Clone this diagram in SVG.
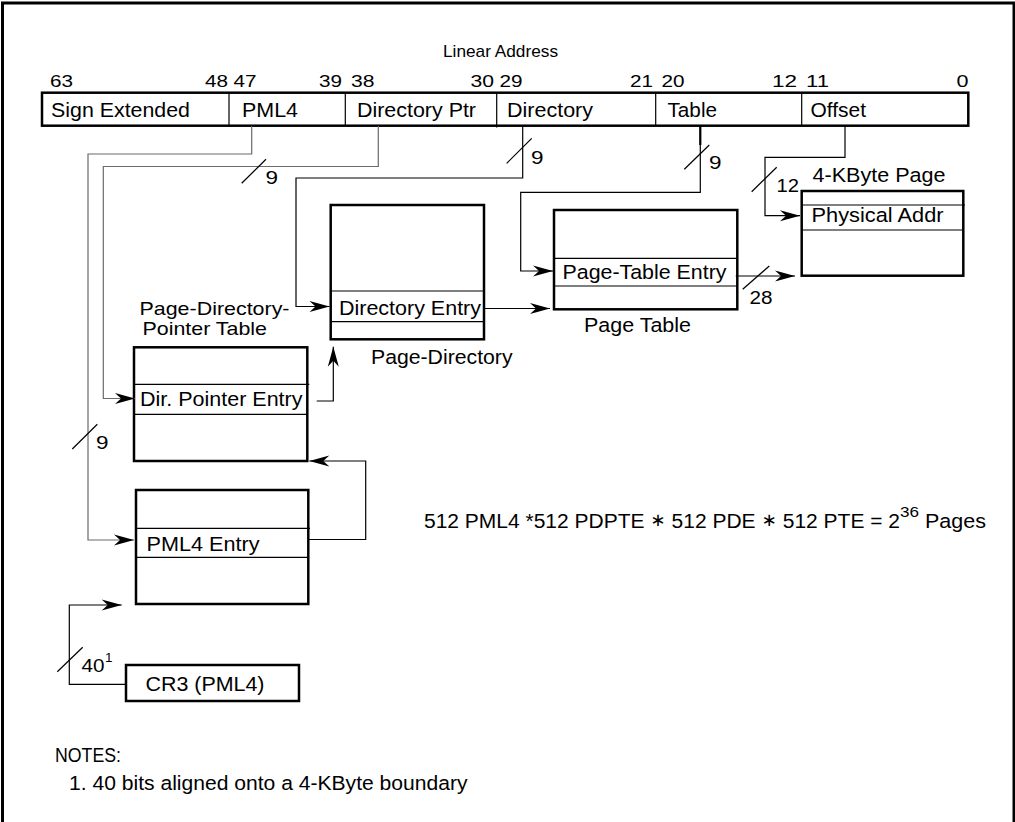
<svg xmlns="http://www.w3.org/2000/svg" width="1015" height="822" viewBox="0 0 1015 822">
<defs>
<style>
text{font-family:"Liberation Sans",Arial,sans-serif;fill:#000}
.l{font-size:20.5px}
.n{font-size:17px}
.d{font-size:18px}
.box{fill:#fff;stroke:#000;stroke-width:2.5}
.row{stroke:#000;stroke-width:1.2;fill:none}
.c{fill:none;stroke:#000;stroke-width:1.2}
.g{stroke:#6a6a6a}
.s{stroke:#000;stroke-width:1.2}
.op{font-family:"DejaVu Sans",sans-serif;font-size:18px}
</style>
<marker id="ah" viewBox="-21 -7 22 14" markerWidth="22" markerHeight="14" refX="0" refY="0" orient="auto" markerUnits="userSpaceOnUse"><path d="M0,0 L-20,-5.5 L-14,0 L-20,5.5 Z" fill="#000"/></marker>
</defs>
<rect x="2.5" y="3" width="1011.5" height="830" fill="#fff" stroke="#000" stroke-width="3"/>

<g id="linear-address">
<text class="n" x="443" y="57" textLength="115" lengthAdjust="spacingAndGlyphs">Linear Address</text>
<rect x="42" y="92.7" width="926.3" height="33" fill="#fff" stroke="#000" stroke-width="2.5"/>
<path class="row" d="M229,92.7V125.7M345.3,92.7V125.7M496.7,92.7V127.5M655.7,92.7V125.7M801.7,92.7V125.7"/>
<g class="n">
<text x="50" y="87" textLength="23" lengthAdjust="spacingAndGlyphs">63</text>
<text x="205" y="87" textLength="23" lengthAdjust="spacingAndGlyphs">48</text>
<text x="233.5" y="87" textLength="23" lengthAdjust="spacingAndGlyphs">47</text>
<text x="319" y="87" textLength="23" lengthAdjust="spacingAndGlyphs">39</text>
<text x="351" y="87" textLength="23.5" lengthAdjust="spacingAndGlyphs">38</text>
<text x="470.5" y="87" textLength="23.5" lengthAdjust="spacingAndGlyphs">30</text>
<text x="499.5" y="87" textLength="23" lengthAdjust="spacingAndGlyphs">29</text>
<text x="630" y="87" textLength="23" lengthAdjust="spacingAndGlyphs">21</text>
<text x="661.5" y="87" textLength="23" lengthAdjust="spacingAndGlyphs">20</text>
<text x="772" y="87" textLength="25" lengthAdjust="spacingAndGlyphs">12</text>
<text x="806" y="87" textLength="23" lengthAdjust="spacingAndGlyphs">11</text>
<text x="956.5" y="87" textLength="12" lengthAdjust="spacingAndGlyphs">0</text>
</g>
<g class="l">
<text x="51" y="117" textLength="139" lengthAdjust="spacingAndGlyphs">Sign Extended</text>
<text x="242" y="117" textLength="56" lengthAdjust="spacingAndGlyphs">PML4</text>
<text x="357" y="117" textLength="119" lengthAdjust="spacingAndGlyphs">Directory Ptr</text>
<text x="507" y="117" textLength="86" lengthAdjust="spacingAndGlyphs">Directory</text>
<text x="667.5" y="117" textLength="49.5" lengthAdjust="spacingAndGlyphs">Table</text>
<text x="810.5" y="117" textLength="55.5" lengthAdjust="spacingAndGlyphs">Offset</text>
</g>
</g>

<g id="page-4k">
<text class="l" x="812.5" y="181.7" textLength="133" lengthAdjust="spacingAndGlyphs">4-KByte Page</text>
<rect class="box" x="801.7" y="191" width="161.6" height="84.7"/>
<path class="row" d="M801.7,205H965M801.7,230H963.3"/>
<text class="l" x="811.5" y="222" textLength="132" lengthAdjust="spacingAndGlyphs">Physical Addr</text>
</g>

<g id="page-table">
<rect class="box" x="554" y="210" width="183.3" height="99.3"/>
<path class="row" d="M554,258.3H737.3M554,286H737.3"/>
<text class="l" x="562.5" y="279" textLength="164" lengthAdjust="spacingAndGlyphs">Page-Table Entry</text>
<text class="l" x="584" y="332" textLength="107" lengthAdjust="spacingAndGlyphs">Page Table</text>
</g>

<g id="page-directory">
<rect class="box" x="330.7" y="205" width="153.3" height="134.3"/>
<path class="row" d="M330.7,291H484M330.7,321.7H484"/>
<text class="l" x="339" y="314.5" textLength="142" lengthAdjust="spacingAndGlyphs">Directory Entry</text>
<text class="l" x="371" y="364" textLength="141.5" lengthAdjust="spacingAndGlyphs">Page-Directory</text>
</g>

<g id="pdpt">
<text x="139.5" y="314.5" style="font-size:19px" textLength="150" lengthAdjust="spacingAndGlyphs">Page-Directory-</text>
<text x="142.5" y="335" style="font-size:19px" textLength="124.5" lengthAdjust="spacingAndGlyphs">Pointer Table</text>
<rect class="box" x="134" y="347.3" width="173.3" height="113.7"/>
<path class="row" d="M134,384.3H309.3M134,414.3H307.3"/>
<text class="l" x="140" y="405.5" textLength="162.5" lengthAdjust="spacingAndGlyphs">Dir. Pointer Entry</text>
</g>

<g id="pml4">
<rect class="box" x="136" y="490" width="172.3" height="114"/>
<path class="row" d="M136,528.3H310M136,557.3H308.3"/>
<text class="l" x="146.5" y="551" textLength="113" lengthAdjust="spacingAndGlyphs">PML4 Entry</text>
</g>

<g id="cr3">
<rect class="box" x="126" y="665" width="173" height="36"/>
<text class="l" x="145.5" y="691" textLength="119" lengthAdjust="spacingAndGlyphs">CR3 (PML4)</text>
</g>

<g id="connectors">
<path class="c g" d="M251.7,126V154H88V540H134" marker-end="url(#ah)"/>
<path class="c g" d="M378.3,126V166.5H103.3V398.5H135" marker-end="url(#ah)"/>
<path class="c" d="M522.7,126V178H296V306.5H329.5" marker-end="url(#ah)"/>
<path class="c" d="M700.3,126V192.3H520.7V271H553" marker-end="url(#ah)"/>
<path d="M700.3,126V145" stroke="#000" stroke-width="2.2"/>
<path class="c" d="M845,126V157.3H765V215.7H800" marker-end="url(#ah)"/>
<path class="c" d="M126,684.3H69.3V605H121.7" marker-end="url(#ah)"/>
<path class="c" d="M308.3,539.5H365.7V461H309.3" marker-end="url(#ah)"/>
<path class="c" d="M316.7,401H333.3V346.7" marker-end="url(#ah)"/>
<path class="c" d="M484,308.5H550" marker-end="url(#ah)"/>
<path class="c" d="M735.7,276H795" marker-end="url(#ah)"/>
<g class="s">
<line x1="241.7" y1="183.3" x2="266" y2="159.3"/>
<line x1="506.7" y1="163.3" x2="531.7" y2="138.3"/>
<line x1="684.3" y1="169.3" x2="709.3" y2="145"/>
<line x1="751.7" y1="191.7" x2="776.7" y2="167.3"/>
<line x1="742.7" y1="289.3" x2="769.3" y2="266"/>
<line x1="72.3" y1="449" x2="97.3" y2="424.3"/>
<line x1="57.3" y1="671.7" x2="82.7" y2="647.3"/>
</g>
<g class="d">
<text x="265.5" y="183.5" textLength="12.5" lengthAdjust="spacingAndGlyphs">9</text>
<text x="531" y="163.5" textLength="12.5" lengthAdjust="spacingAndGlyphs">9</text>
<text x="709" y="168.5" textLength="12.5" lengthAdjust="spacingAndGlyphs">9</text>
<text x="776.5" y="192" textLength="22.5" lengthAdjust="spacingAndGlyphs">12</text>
<text x="749.5" y="303.5" textLength="23" lengthAdjust="spacingAndGlyphs">28</text>
<text x="96" y="448.5" textLength="12.5" lengthAdjust="spacingAndGlyphs">9</text>
<text x="81.5" y="672" textLength="23" lengthAdjust="spacingAndGlyphs">40</text>
<text x="105" y="662" style="font-size:13px" textLength="7.5" lengthAdjust="spacingAndGlyphs">1</text>
</g>
</g>

<g id="formula" class="l">
<text x="424" y="528" textLength="476" lengthAdjust="spacingAndGlyphs">512 PML4 *512 PDPTE <tspan class="op" dy="-2">∗</tspan><tspan dy="2"> 512 PDE </tspan><tspan class="op" dy="-2">∗</tspan><tspan dy="2"> 512 PTE = 2</tspan></text>
<text x="900" y="517" style="font-size:14px" textLength="19" lengthAdjust="spacingAndGlyphs">36</text>
<text x="925" y="528" textLength="61" lengthAdjust="spacingAndGlyphs">Pages</text>
</g>

<g id="notes" class="l">
<text x="55" y="761.7" textLength="66" lengthAdjust="spacingAndGlyphs">NOTES:</text>
<text x="69" y="790" textLength="398.5" lengthAdjust="spacingAndGlyphs">1. 40 bits aligned onto a 4-KByte boundary</text>
</g>
</svg>
